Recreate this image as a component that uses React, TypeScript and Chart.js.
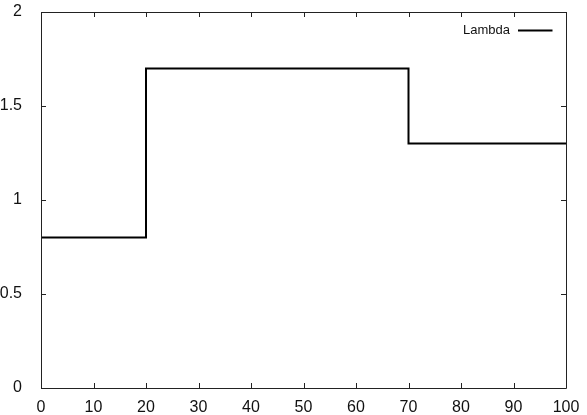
import React, { useEffect, useRef } from "react";
import { Chart, registerables } from "chart.js";

Chart.register(...registerables);

const seriesLabel = "Lambda";
const lambdaX = [0, 20, 20, 70, 70, 100];
const lambdaY = [0.8, 0.8, 1.7, 1.7, 1.3, 1.3];
const xTicks = [0, 10, 20, 30, 40, 50, 60, 70, 80, 90, 100];
const yTicks = [0, 0.5, 1, 1.5, 2];

const FONT = "'Liberation Sans', Arial, sans-serif";

const framePlugin = {
  id: "frame",
  afterDraw(chart: any) {
    const { ctx, chartArea: a, scales } = chart;
    const xs = scales.x;
    const ys = scales.y;
    ctx.save();
    ctx.strokeStyle = "#222";
    ctx.lineWidth = 1;
    ctx.beginPath();
    ctx.rect(Math.round(a.left) + 0.5, Math.round(a.top) + 0.5, Math.round(a.right - a.left), Math.round(a.bottom - a.top));
    ctx.stroke();
    const tl = 5;
    ctx.beginPath();
    xTicks.forEach((v) => {
      const px = Math.round(xs.getPixelForValue(v)) + 0.5;
      ctx.moveTo(px, a.bottom);
      ctx.lineTo(px, a.bottom - tl);
      ctx.moveTo(px, a.top);
      ctx.lineTo(px, a.top + tl);
    });
    yTicks.forEach((v) => {
      const py = Math.round(ys.getPixelForValue(v)) + 0.5;
      ctx.moveTo(a.left, py);
      ctx.lineTo(a.left + tl, py);
      ctx.moveTo(a.right, py);
      ctx.lineTo(a.right - tl, py);
    });
    ctx.stroke();
    // legend
    const ds = chart.data.datasets[0];
    ctx.fillStyle = "#111";
    ctx.font = "13px " + FONT;
    ctx.textAlign = "right";
    ctx.textBaseline = "middle";
    const ly = a.top + 18.5;
    ctx.fillText(ds.label, a.right - 56, ly);
    ctx.strokeStyle = "#000";
    ctx.lineWidth = 2;
    ctx.beginPath();
    ctx.moveTo(a.right - 48, ly);
    ctx.lineTo(a.right - 13.5, ly);
    ctx.stroke();
    ctx.restore();
  },
};

export default function App() {
  const ref = useRef<HTMLCanvasElement>(null);
  useEffect(() => {
    const chart = new Chart(ref.current!, {
      type: "line",
      data: {
        datasets: [
          {
            label: seriesLabel,
            data: lambdaX.map((x, i) => ({ x, y: lambdaY[i] })),
            borderColor: "#000",
            borderWidth: 2,
            pointRadius: 0,
            fill: false,
            tension: 0,
          },
        ],
      },
      options: {
        animation: false,
        responsive: false,
        maintainAspectRatio: false,
        layout: { padding: { top: 12, right: 21, left: 0, bottom: 0 } },
        plugins: { legend: { display: false }, tooltip: { enabled: false } },
        scales: {
          x: {
            type: "linear",
            min: 0,
            max: 100,
            afterBuildTicks: (s: any) => {
              s.ticks = xTicks.map((v) => ({ value: v }));
            },
            afterFit: (s: any) => {
              s.height = 27;
              s.paddingLeft = 0;
              s.paddingRight = 0;
            },
            grid: { display: false },
            border: { display: false },
            ticks: {
              color: "#111",
              font: { family: FONT, size: 16 },
              padding: 2,
              maxRotation: 0,
              autoSkip: false,
              callback: (v: any) => String(v),
            },
          },
          y: {
            type: "linear",
            min: 0,
            max: 2,
            afterBuildTicks: (s: any) => {
              s.ticks = yTicks.map((v) => ({ value: v }));
            },
            afterFit: (s: any) => {
              s.width = 41;
              s.paddingTop = 0;
              s.paddingBottom = 0;
            },
            grid: { display: false },
            border: { display: false },
            ticks: {
              color: "#111",
              font: { family: FONT, size: 16 },
              padding: 11,
              autoSkip: false,
              callback: (v: any) => String(v),
            },
          },
        },
      },
      plugins: [framePlugin],
    });
    return () => chart.destroy();
  }, []);
  return (
    <div style={{ position: "fixed", left: 0, top: 0, width: 587, height: 415, background: "#fff" }}>
      <canvas ref={ref} width={587} height={415} style={{ display: "block" }} />
    </div>
  );
}
